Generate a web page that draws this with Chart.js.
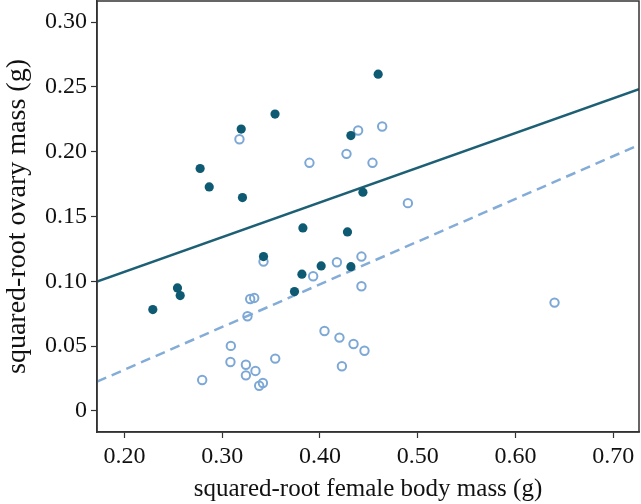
<!DOCTYPE html>
<html>
<head>
<meta charset="utf-8">
<script src="https://cdn.jsdelivr.net/npm/chart.js@4.4.1/dist/chart.umd.min.js"></script>
<style>
  html, body { margin: 0; padding: 0; background: #ffffff; }
  #wrap { width: 641px; height: 504px; }
</style>
</head>
<body>
<div id="wrap"><canvas id="c" width="641" height="504"></canvas></div>
<script>
// Filled markers (group 1)
const filledX = [0.2774, 0.2867, 0.3194, 0.3207, 0.3540, 0.4316, 0.4439, 0.4595, 0.3825, 0.4281, 0.3422, 0.4012, 0.3815, 0.4316, 0.3739, 0.2542, 0.2570, 0.2290];
const filledY = [0.1870, 0.1728, 0.2174, 0.1646, 0.2290, 0.2124, 0.1687, 0.2598, 0.1412, 0.1381, 0.1191, 0.1119, 0.1055, 0.1113, 0.0921, 0.0949, 0.0890, 0.0782];
// Open markers (group 2)
const openX = [0.3176, 0.3892, 0.4271, 0.4390, 0.4636, 0.4537, 0.4899, 0.3422, 0.4173, 0.4424, 0.3930, 0.4424, 0.3286, 0.3327, 0.3258, 0.4046, 0.4199, 0.4343, 0.4455, 0.3088, 0.3084, 0.3542, 0.3242, 0.3340, 0.3242, 0.2795, 0.4224, 0.3416, 0.3378, 0.6399];
const openY = [0.2096, 0.1914, 0.1983, 0.2163, 0.2194, 0.1914, 0.1603, 0.1152, 0.1147, 0.1191, 0.1039, 0.0962, 0.0864, 0.0872, 0.0731, 0.0617, 0.0566, 0.0517, 0.0465, 0.0502, 0.0378, 0.0404, 0.0357, 0.0309, 0.0275, 0.0239, 0.0345, 0.0216, 0.0195, 0.0836];
// Fitted lines (endpoints at axis limits)
const lineX = [0.1719, 0.7263];
const solidY = [0.0998, 0.2482];
const dashedY = [0.0226, 0.2052];
// Tick values
const xTicks = [0.20, 0.30, 0.40, 0.50, 0.60, 0.70];
const yTicks = [0, 0.05, 0.10, 0.15, 0.20, 0.25, 0.30];

const toPts = (xs, ys) => xs.map((x, i) => ({ x: x, y: ys[i] }));

const DARK = '#0e5a72';
const LIGHT = '#7da8d6';
const FONT = "'Liberation Serif', 'DejaVu Serif', serif";

const boxPlugin = {
  id: 'box',
  afterDraw(chart) {
    const a = chart.chartArea, ctx = chart.ctx;
    ctx.save();
    ctx.strokeStyle = '#333333';
    ctx.lineWidth = 1.5;
    ctx.strokeRect(a.left, a.top, a.right - a.left, a.bottom - a.top);
    ctx.restore();
  }
};

new Chart(document.getElementById('c'), {
  type: 'scatter',
  data: {
    datasets: [
      { type: 'line', data: toPts(lineX, solidY), borderColor: '#1d5f74', borderWidth: 2.5, pointRadius: 0, fill: false, order: 3 },
      { type: 'line', data: toPts(lineX, dashedY), borderColor: '#84acd8', borderWidth: 2.5, borderDash: [10, 6], pointRadius: 0, fill: false, order: 4 },
      { data: toPts(openX, openY), pointRadius: 4.2, pointBorderWidth: 2, pointBackgroundColor: 'rgba(255,255,255,0)', pointBorderColor: LIGHT, order: 2 },
      { data: toPts(filledX, filledY), pointRadius: 4.6, pointBorderWidth: 0, pointBackgroundColor: DARK, pointBorderColor: DARK, order: 1 }
    ]
  },
  options: {
    responsive: false,
    animation: false,
    devicePixelRatio: 1,
    layout: { autoPadding: false, padding: { left: 0, right: 2, top: 1, bottom: 0 } },
    plugins: { legend: { display: false }, tooltip: { enabled: false } },
    scales: {
      x: {
        type: 'linear', min: 0.1719, max: 0.7263,
        afterBuildTicks: s => { s.ticks = xTicks.map(v => ({ value: v })); },
        afterFit: s => { s.height = 72; s.paddingLeft = 0; s.paddingRight = 0; },
        grid: { display: true, drawOnChartArea: false, drawTicks: true, tickLength: 6, tickColor: '#333333', tickWidth: 1.2 },
        border: { display: true, color: '#333333', width: 1.5 },
        ticks: { color: '#111111', font: { family: FONT, size: 24 }, padding: 4, maxRotation: 0, callback: v => v.toFixed(2) },
        title: { display: true, text: 'squared-root female body mass (g)', color: '#111111', font: { family: FONT, size: 25 }, padding: { top: 0, bottom: 0 } }
      },
      y: {
        type: 'linear', min: -0.0162, max: 0.3162,
        afterBuildTicks: s => { s.ticks = yTicks.map(v => ({ value: v })); },
        afterFit: s => { s.width = 97; s.paddingTop = 0; s.paddingBottom = 0; },
        grid: { display: true, drawOnChartArea: false, drawTicks: true, tickLength: 6, tickColor: '#333333', tickWidth: 1.2 },
        border: { display: true, color: '#333333', width: 1.5 },
        ticks: { color: '#111111', font: { family: FONT, size: 24 }, padding: 4, callback: v => v === 0 ? '0' : v.toFixed(2) },
        title: { display: true, text: 'squared-root ovary mass (g)', color: '#111111', font: { family: FONT, size: 28 }, padding: { top: 1, bottom: 0 } }
      }
    }
  },
  plugins: [boxPlugin]
});
</script>
</body>
</html>
